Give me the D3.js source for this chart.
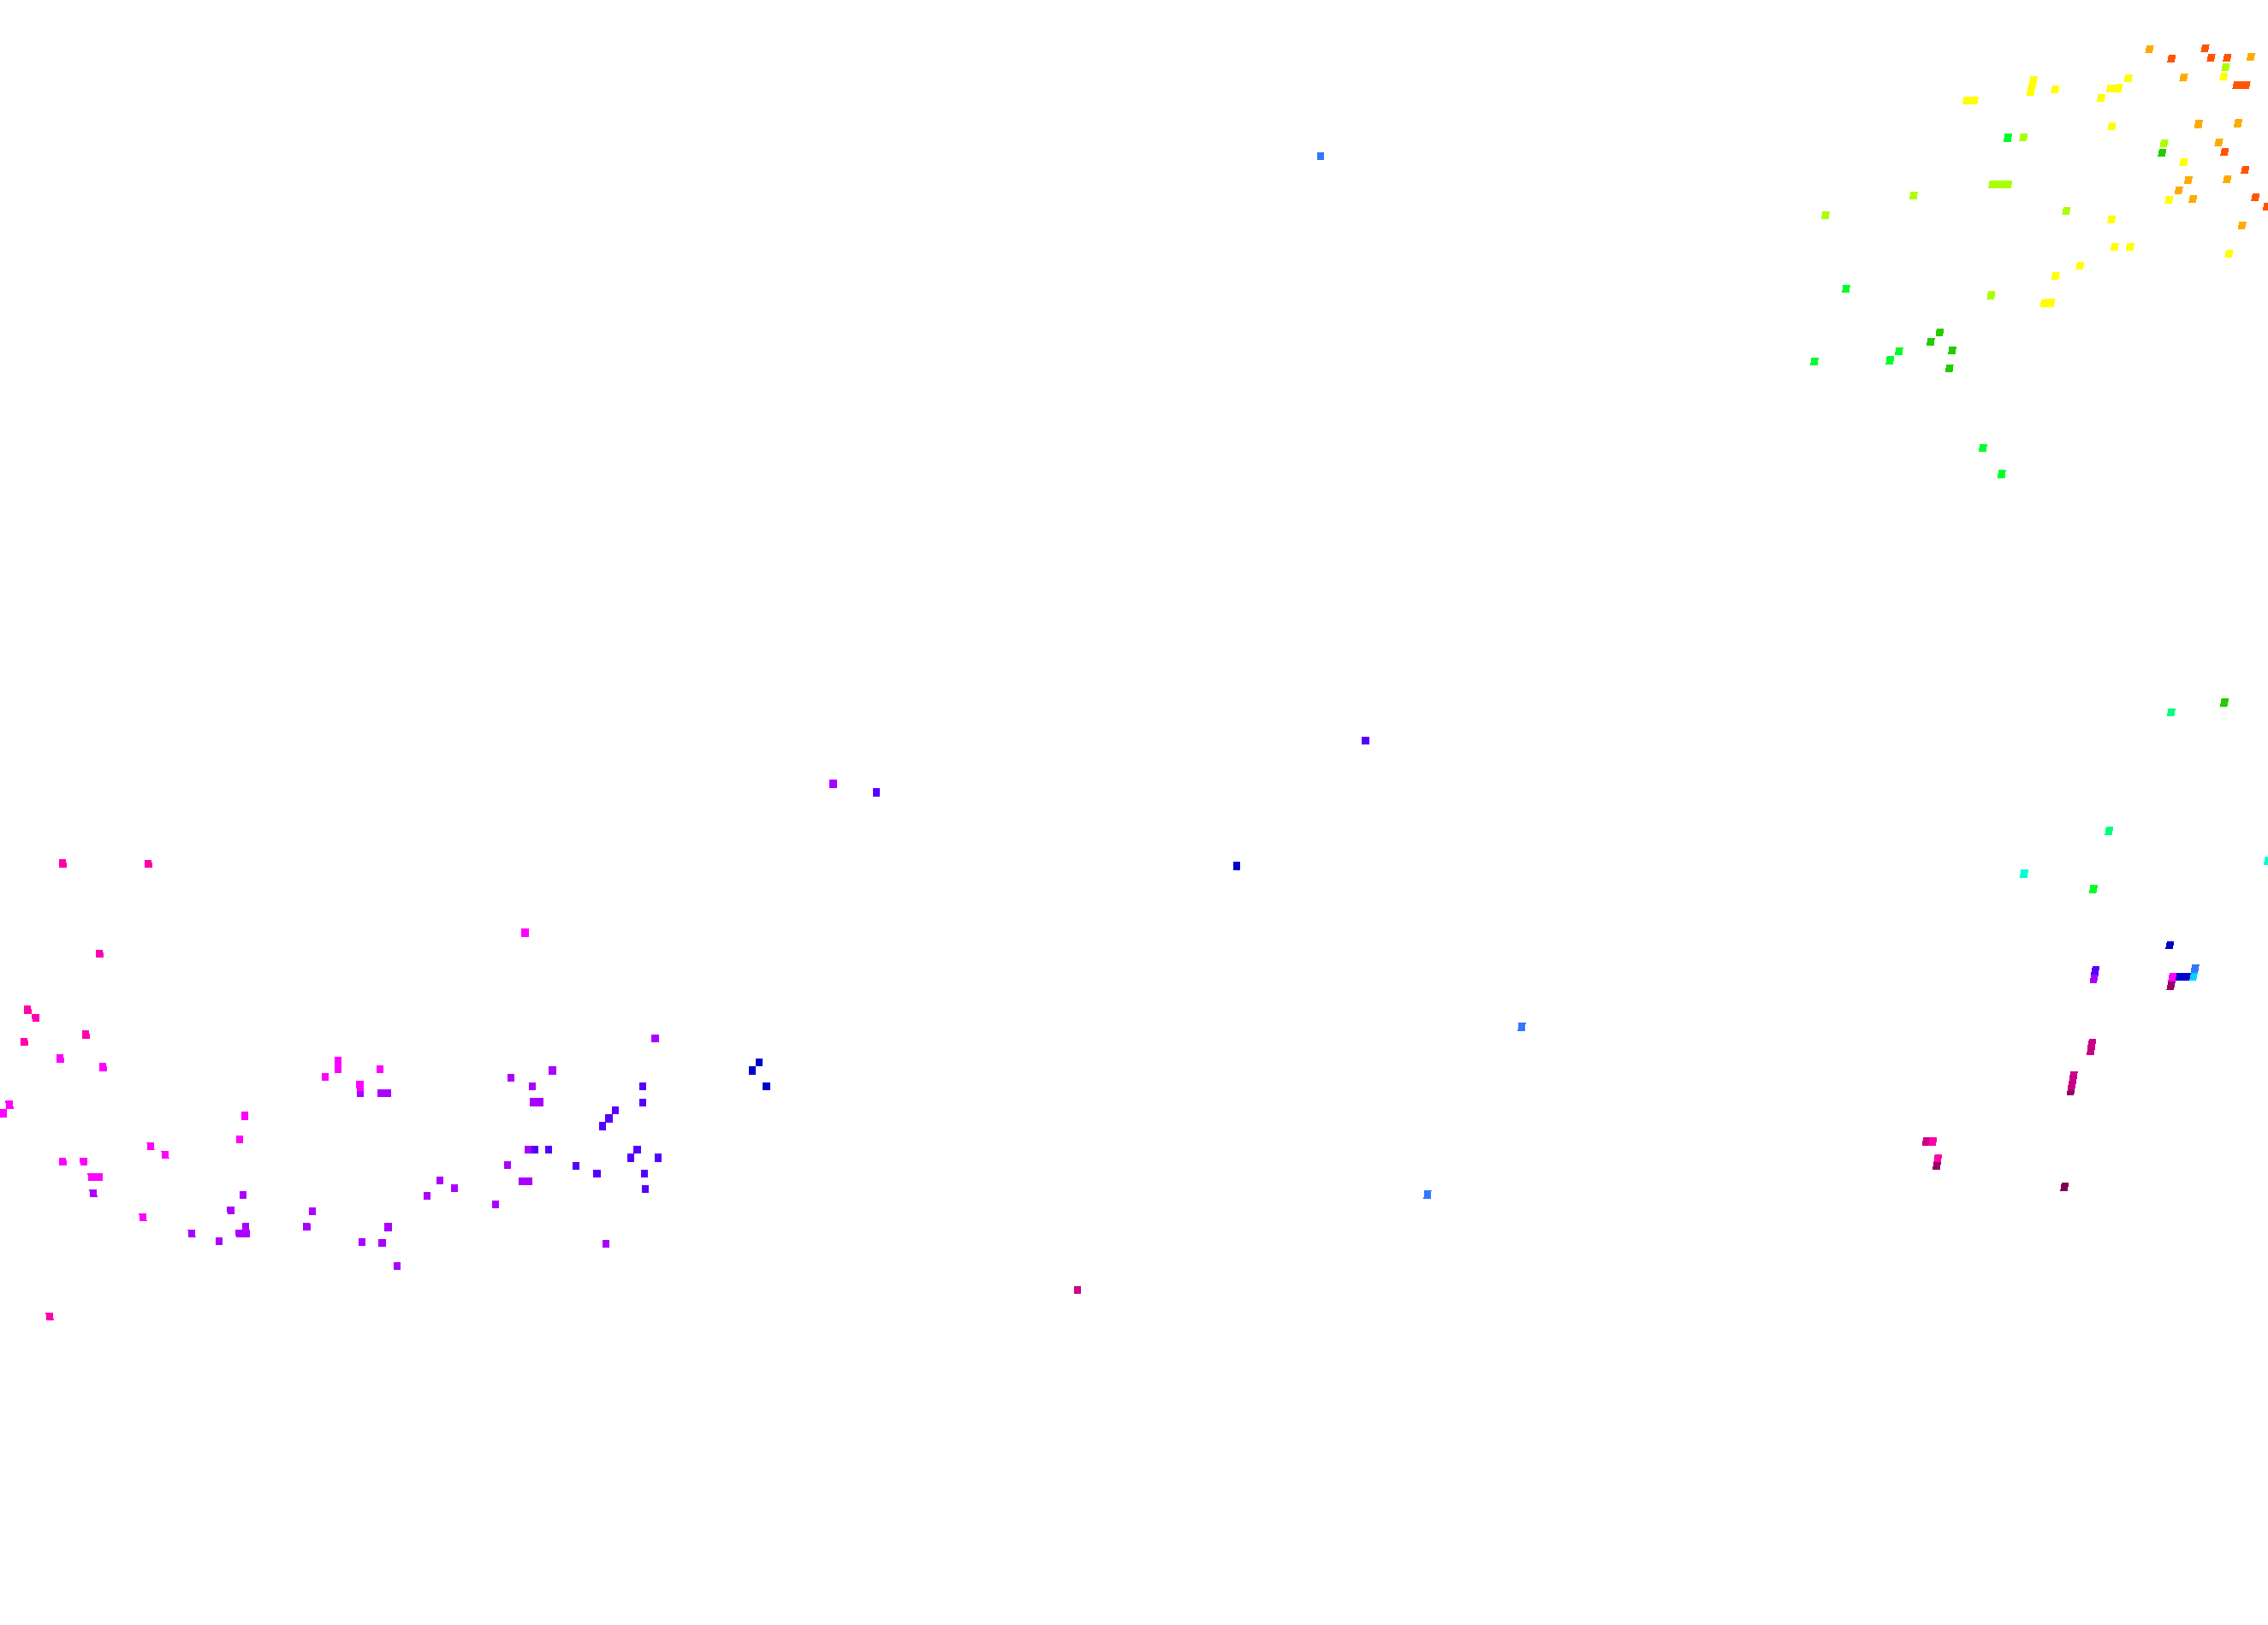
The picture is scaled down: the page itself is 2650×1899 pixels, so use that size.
<!DOCTYPE html>
<html>
<head>
<meta charset="utf-8">
<script src="https://cdn.jsdelivr.net/npm/d3@7"></script>
<style>html,body{margin:0;padding:0;background:#fff;overflow:hidden}svg{display:block}</style>
</head>
<body>
<div id="chart"></div>
<script>
// Values: [x, y] in the plot's own coordinate units.
const magenta = [[70.3,1236.7],[120.3,1246.7],[11,1291],[3.7,1300.7],[286,1304],[280,1331.3],[176,1339.3],[193,1349.3],[73.3,1357.3],[97.7,1357.3],[107,1375.3],[111,1375.3],[115.7,1375.3],[167,1422.3],[395,1240],[395,1248.7],[380,1258.3],[444,1249.3],[420.3,1267.3],[421,1270],[613.5,1090],[2538.3,1142]];
const pink = [[73.3,1008.7],[173.3,1009.3],[116.3,1114.3],[32.3,1180],[41.7,1189.3],[100.3,1209],[28.3,1217.3],[58,1538.3],[2258.3,1334],[2264.3,1353.3]];
const deepPink = [[2444.3,1218.7],[2443.6,1223.5],[2443,1228.3],[2422.7,1256.7],[2421.7,1264],[2420.7,1268.3],[2250.7,1334],[1259,1507.5]];
const wine = [[2536.7,1151.7],[2419.7,1275.3],[2263,1362]];
const plum = [[2412.3,1386.7]];
const purple = [[109,1394.3],[284,1396.3],[269.7,1414.3],[365,1415.3],[358.3,1433.3],[287,1433.3],[224,1441.3],[256,1450.3],[279.7,1441.3],[287.7,1441.3],[765.3,1213.3],[421,1277.3],[445,1277.3],[453,1277.3],[597,1259.3],[645.3,1251],[622,1269.3],[623,1288],[631,1288],[617,1343.3],[593,1361.3],[610,1380.3],[618,1380.3],[579,1407.3],[514,1379.3],[531,1388.3],[499,1397.3],[453.3,1434],[423,1451.3],[446.7,1452.3],[464,1479.3],[708,1453.3],[973.5,916],[2446.7,1143.7]];
const indigo = [[625,1343.3],[641,1343.3],[751,1269.3],[751,1288.3],[719,1297.3],[711.7,1306.7],[704,1316],[744.3,1343.3],[737,1353],[769,1353],[673,1362.3],[697.3,1371.3],[753,1371.3],[754,1389.3],[1595.5,865.5],[1024,926],[2448.3,1133.7]];
const navy = [[887,1241.3],[879,1251],[895.3,1269.3],[1445,1012],[2535.3,1104.3],[2546.3,1141.3],[2550.5,1141.3],[2554.7,1141.3]];
const skyBlue = [[1543,182.5],[1778,1200],[1668,1396],[2564.7,1132]];
const azure = [[2562.7,1141.3]];
const aqua = [[2365,1021],[2650,1006]];
const spring = [[2537,832.3],[2464.3,971]];
const green = [[2346.1,160.7],[2157.1,337.3],[2218.9,410.3],[2208.3,421],[2120,422.3],[2317,523.3],[2338.8,554],[2446,1039]];
const forest = [[2526.4,178.3],[2266.5,388.3],[2255.9,399.3],[2281,409.3],[2277.7,430.3],[2599,821]];
const lime = [[2600.5,78.3],[2364.3,160.3],[2528.6,167.3],[2328.3,215.3],[2332.6,215.3],[2337,215.3],[2341.7,215.3],[2346.4,215.3],[2235.9,228.3],[2133.1,251.3],[2414.4,246.3],[2326.5,345]];
const yellow = [[2598.4,89.3],[2375.9,93.3],[2374.4,100],[2373,106.7],[2401.3,104.3],[2298.1,117.3],[2302.5,117.3],[2306.8,117.3],[2486.8,91.3],[2466,103.3],[2470.8,103.3],[2475.5,102.7],[2455.1,114.3],[2467.5,147.3],[2551.5,189.3],[2534.4,233.3],[2467.1,256.3],[2470.8,288.3],[2488.9,288.3],[2604.5,296.3],[2430.4,310.3],[2401.7,322.3],[2388.6,354.3],[2392.4,354],[2396.2,354]];
const orange = [[2511.5,57.3],[2630,66.3],[2551.5,90.3],[2568.9,145],[2615,144],[2592.5,166.3],[2556.9,210.3],[2602.4,209.3],[2545.7,222.3],[2562.4,232.3],[2619.8,263.3]];
const vermilion = [[2537.3,68.3],[2576.6,56.3],[2583.5,67.3],[2602.4,67.3],[2613.5,99.3],[2619,99.3],[2624.5,99.3],[2599.4,177.3],[2623.4,198.3],[2635.4,230.3],[2648.9,241.3]];

const seriesNames = ["vermilion","orange","lime","yellow","forest","green","spring","aqua","azure","skyBlue","navy","indigo","purple","plum","wine","deepPink","pink","magenta"];
const seriesValues = [vermilion,orange,lime,yellow,forest,green,spring,aqua,azure,skyBlue,navy,indigo,purple,plum,wine,deepPink,pink,magenta];
const seriesColors = ["#ff5500","#ffaa00","#aaff00","#ffff00","#22cc00","#00ff2a","#00ff80","#00ffd4","#00d4ff","#3377ff","#0000cc","#5500ff","#aa00ff","#800055","#990066","#cc0088","#ff00aa","#ff00ff"];

const width = 2650, height = 1899;
const markW = 8.6, markH = 9.6;
const x = d3.scaleLinear().domain([0,2650]).range([0,width]);
const y = d3.scaleLinear().domain([0,1899]).range([0,height]);
const color = d3.scaleOrdinal().domain(seriesNames).range(seriesColors);
// marks lean with horizontal position in the reference
const lean = d3.scaleLinear().domain([0,500,1300,2650]).range([-0.9,0,0,2]);

const svg = d3.select("#chart").append("svg")
  .attr("width",width).attr("height",height).attr("viewBox",`0 0 ${width} ${height}`);

const groups = svg.selectAll("g.series")
  .data(seriesNames.map((n,i)=>({name:n,values:seriesValues[i]})))
  .join("g").attr("class","series")
  .attr("fill",d=>color(d.name));

groups.selectAll("path")
  .data(d=>d.values)
  .join("path")
  .attr("shape-rendering","crispEdges")
  .attr("d",d=>{
    const cx=x(d[0]), cy=y(d[1]), s=lean(d[0])/2;
    const p=d3.path();
    p.moveTo(cx-markW/2+s,cy-markH/2);
    p.lineTo(cx+markW/2+s,cy-markH/2);
    p.lineTo(cx+markW/2-s,cy+markH/2);
    p.lineTo(cx-markW/2-s,cy+markH/2);
    p.closePath();
    return p.toString();
  });
</script>
</body>
</html>
